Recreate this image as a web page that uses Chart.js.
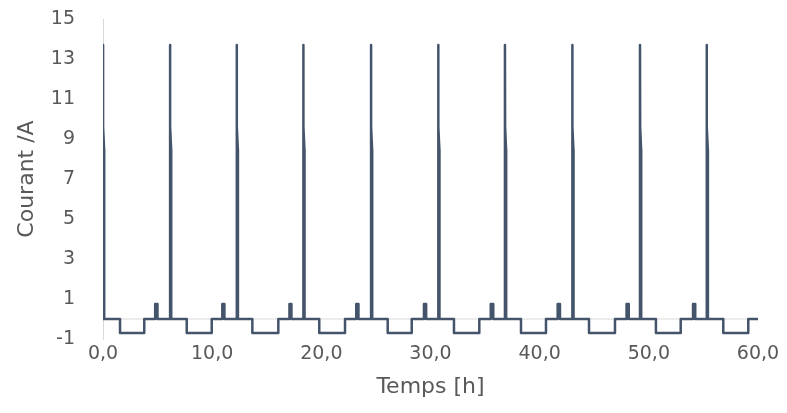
<!DOCTYPE html>
<html>
<head>
    <script src="https://cdn.jsdelivr.net/npm/chart.js@4.4.1/dist/chart.umd.min.js"></script>
    <title>Courant</title>
    <style>
        body { margin: 0; background: #ffffff; }
    </style>
</head>
<body>
<canvas id="myChart" width="787" height="413"></canvas>

<script>
    // time in hours, one line per cycle
    var timeH = [
        0, 0, 0.015, 0.1, 0.11, 1.56, 1.56, 3.78, 3.78, 4.78, 4.78, 4.99, 4.99,
        6.14, 6.14, 6.155, 6.24, 6.25, 7.67, 7.67, 9.96, 9.96, 10.93, 10.93, 11.12, 11.12,
        12.25, 12.25, 12.265, 12.35, 12.36, 13.68, 13.68, 16.06, 16.06, 17.08, 17.08, 17.26, 17.26,
        18.35, 18.35, 18.365, 18.45, 18.46, 19.81, 19.81, 22.17, 22.17, 23.2, 23.2, 23.4, 23.4,
        24.55, 24.55, 24.565, 24.65, 24.66, 26.08, 26.08, 28.28, 28.28, 29.4, 29.4, 29.6, 29.6,
        30.71, 30.71, 30.725, 30.81, 30.82, 32.15, 32.15, 34.47, 34.47, 35.52, 35.52, 35.75, 35.75,
        36.82, 36.82, 36.835, 36.92, 36.93, 38.29, 38.29, 40.58, 40.58, 41.65, 41.65, 41.86, 41.86,
        42.99, 42.99, 43.005, 43.09, 43.1, 44.52, 44.52, 46.9, 46.9, 47.96, 47.96, 48.16, 48.16,
        49.19, 49.19, 49.205, 49.29, 49.3, 50.65, 50.65, 52.92, 52.92, 54.05, 54.05, 54.25, 54.25,
        55.3, 55.3, 55.315, 55.4, 55.41, 56.82, 56.82, 59.11, 59.11, 60
    ];
    // current in A
    var currentA = [
        0, 13.7, 9.6, 8.5, 0, 0, -0.7, -0.7, 0, 0, 0.75, 0.75, 0,
        0, 13.7, 9.6, 8.5, 0, 0, -0.7, -0.7, 0, 0, 0.75, 0.75, 0,
        0, 13.7, 9.6, 8.5, 0, 0, -0.7, -0.7, 0, 0, 0.75, 0.75, 0,
        0, 13.7, 9.6, 8.5, 0, 0, -0.7, -0.7, 0, 0, 0.75, 0.75, 0,
        0, 13.7, 9.6, 8.5, 0, 0, -0.7, -0.7, 0, 0, 0.75, 0.75, 0,
        0, 13.7, 9.6, 8.5, 0, 0, -0.7, -0.7, 0, 0, 0.75, 0.75, 0,
        0, 13.7, 9.6, 8.5, 0, 0, -0.7, -0.7, 0, 0, 0.75, 0.75, 0,
        0, 13.7, 9.6, 8.5, 0, 0, -0.7, -0.7, 0, 0, 0.75, 0.75, 0,
        0, 13.7, 9.6, 8.5, 0, 0, -0.7, -0.7, 0, 0, 0.75, 0.75, 0,
        0, 13.7, 9.6, 8.5, 0, 0, -0.7, -0.7, 0, 0
    ];
    // horizontal axis line at 0 A
    var zeroLineX = [0, 60];
    var zeroLineY = [0, 0];

    var yTicks = [-1, 1, 3, 5, 7, 9, 11, 13, 15];
    var xTicks = [0, 10, 20, 30, 40, 50, 60];

    var points = timeH.map(function (t, i) { return { x: t, y: currentA[i] }; });
    var zeroPoints = zeroLineX.map(function (t, i) { return { x: t, y: zeroLineY[i] }; });

    var textColor = '#595959';
    var ctx = document.getElementById('myChart').getContext('2d');
    var myChart = new Chart(ctx, {
        type: 'line',
        data: {
            datasets: [
                {
                    label: 'Courant',
                    data: points,
                    borderColor: '#44546a',
                    borderWidth: 2.5,
                    borderJoinStyle: 'round',
                    pointRadius: 0,
                    tension: 0,
                    order: 1
                },
                {
                    label: 'axe',
                    data: zeroPoints,
                    borderColor: '#d9d9d9',
                    borderWidth: 1,
                    pointRadius: 0,
                    order: 2
                }
            ]
        },
        options: {
            responsive: false,
            animation: false,
            layout: {
                padding: { top: 19, right: 29, left: 0, bottom: 0 }
            },
            plugins: {
                legend: { display: false },
                tooltip: { enabled: false }
            },
            scales: {
                x: {
                    type: 'linear',
                    min: 0,
                    max: 60,
                    afterBuildTicks: function (scale) {
                        scale.ticks = xTicks.map(function (v) { return { value: v }; });
                    },
                    afterFit: function (scale) { scale.height = 74; },
                    grid: { display: false, drawTicks: false },
                    border: { display: false },
                    ticks: {
                        color: textColor,
                        padding: 4,
                        maxRotation: 0,
                        font: { family: 'DejaVu Sans', size: 19 },
                        callback: function (v) { return v.toFixed(1).replace('.', ','); }
                    },
                    title: {
                        display: true,
                        text: 'Temps [h]',
                        color: textColor,
                        padding: { top: 0, bottom: 13 },
                        font: { family: 'DejaVu Sans', size: 22 }
                    }
                },
                y: {
                    min: -1,
                    max: 15,
                    afterBuildTicks: function (scale) {
                        scale.ticks = yTicks.map(function (v) { return { value: v }; });
                    },
                    afterFit: function (scale) {
                        scale.width = 103;
                        // tick padding would otherwise push the plot down
                        scale.paddingTop = 0;
                        scale.paddingBottom = 0;
                    },
                    grid: { display: false, drawTicks: false },
                    border: { display: true, color: '#d9d9d9', width: 1 },
                    ticks: {
                        color: textColor,
                        padding: 28,
                        font: { family: 'DejaVu Sans', size: 19 }
                    },
                    title: {
                        display: true,
                        text: 'Courant /A',
                        color: textColor,
                        padding: { top: 14, bottom: 0 },
                        font: { family: 'DejaVu Sans', size: 22 }
                    }
                }
            }
        }
    });
</script>
</body>
</html>
